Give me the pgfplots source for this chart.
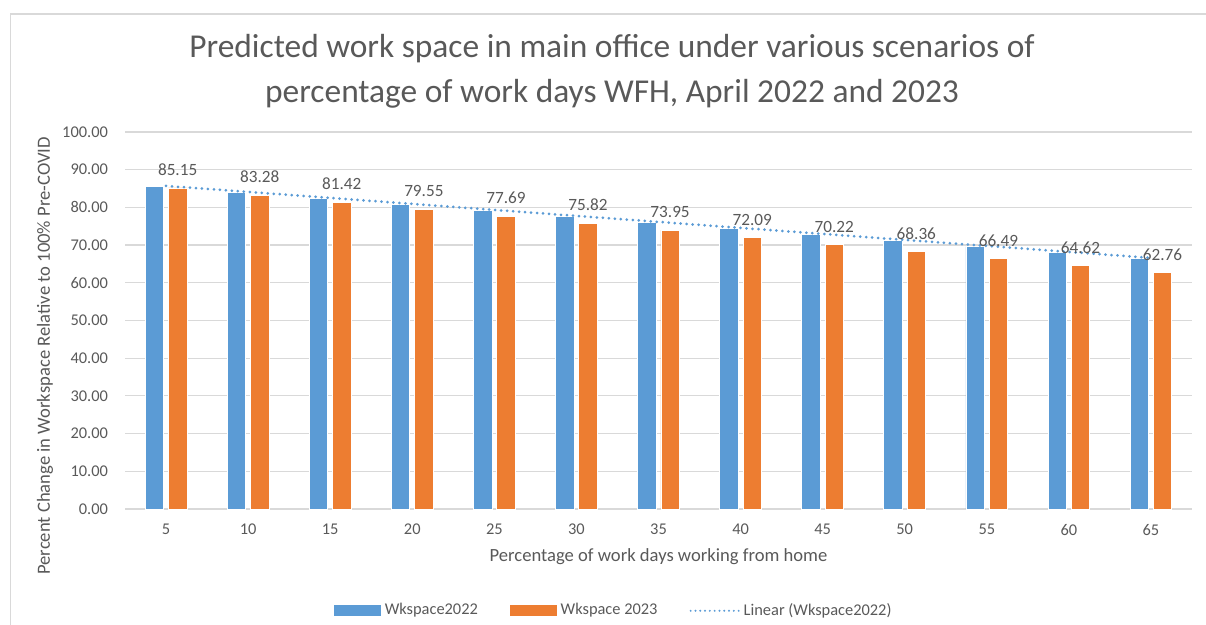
\documentclass[border=0pt]{standalone}
\usepackage{pgfplots}
\pgfplotsset{compat=1.18}
\usepackage{fontspec}
\setmainfont{Carlito}
\definecolor{cblue}{HTML}{5B9BD5}
\definecolor{corange}{HTML}{ED7D31}
\definecolor{cgrid}{HTML}{D9D9D9}
\definecolor{ctext}{HTML}{595959}
\begin{document}
\begin{tikzpicture}
\useasboundingbox (0,0) rectangle (603pt,312.5pt);
\draw[cgrid, line width=0.6pt] (5.3pt,-5pt) -- (5.3pt,305.5pt) -- (610pt,305.5pt);
\begin{axis}[
  at={(62.5pt,58pt)}, anchor=south west,
  width=533.5pt, height=188.5pt, scale only axis,
  xmin=-0.5, xmax=12.5, ymin=0, ymax=100,
  ytick={0,10,...,100},
  xtick={0,...,12},
  xticklabels={5,10,15,20,25,30,35,40,45,50,55,60,65},
  ymajorgrids, grid style={cgrid, line width=0.6pt},
  axis line style={draw=none},
  axis x line*=bottom,
  major tick length=0pt,
  tick label style={font=\fontsize{8.2}{9}\selectfont, text=ctext},
  /pgf/number format/assume math mode=true,
  yticklabel={\pgfmathprintnumber[fixed,fixed zerofill,precision=2]{\tick}},
  yticklabel style={xshift=-5pt},
  xticklabel style={yshift=-4pt},
  xlabel={Percentage of work days working from home},
  ylabel={Percent Change in Workspace Relative to 100\% Pre-COVID},
  label style={font=\fontsize{9.3}{10}\selectfont, text=ctext},
  xlabel style={at={(0.5,-0.127)}, anchor=center},
  ylabel style={at={(-0.075,0.406)}, anchor=center},
  legend columns=3,
  legend style={at={(0.459,-0.27)}, anchor=center, draw=none, fill=none,
    font=\fontsize{8.2}{9}\selectfont, text=ctext,
    /tikz/every even column/.append style={column sep=14pt}},
  legend cell align=left,
  clip=false,
]
\addplot[ybar, bar width=0.225, bar shift=-0.142, fill=cblue, draw=white, line width=0.4pt,
  legend image code/.code={\fill[cblue] (0pt,-2.5pt) rectangle (23pt,2.5pt);}]
  coordinates {(0,85.6) (1,84.0) (2,82.4) (3,80.8) (4,79.2) (5,77.6) (6,76.0) (7,74.4) (8,72.8) (9,71.2) (10,69.6) (11,68.0) (12,66.4)};
\addlegendentry{Wkspace2022}
\addplot[ybar, bar width=0.225, bar shift=0.142, fill=corange, draw=white, line width=0.4pt,
  nodes near coords={\pgfmathprintnumber[fixed,fixed zerofill,precision=2]{\pgfplotspointmeta}},
  nodes near coords style={font=\fontsize{8.6}{10}\selectfont, text=ctext, anchor=south, yshift=2.5pt, xshift=5.8pt},
  legend image code/.code={\fill[corange] (0pt,-2.5pt) rectangle (23pt,2.5pt);}]
  coordinates {(0,85.15) (1,83.28) (2,81.42) (3,79.55) (4,77.69) (5,75.82) (6,73.95) (7,72.09) (8,70.22) (9,68.36) (10,66.49) (11,64.62) (12,62.76)};
\addlegendentry{Wkspace 2023}
\addplot[cblue, line width=1.5pt, line cap=round, dash pattern=on 0pt off 3pt, mark=none,
  legend image code/.code={\draw[cblue, line width=1.1pt, line cap=round, dash pattern=on 0pt off 2.4pt] (0pt,0pt) -- (24pt,0pt);}]
  coordinates {(0,85.7) (12,66.6)};
\addlegendentry{Linear (Wkspace2022)}
\end{axis}
\node[align=center, text=ctext, font=\fontsize{16.7}{22.5}\selectfont] at (306pt,277pt)
  {Predicted work space in main office under various scenarios of\\percentage of work days WFH, April 2022 and 2023};
\end{tikzpicture}
\end{document}
